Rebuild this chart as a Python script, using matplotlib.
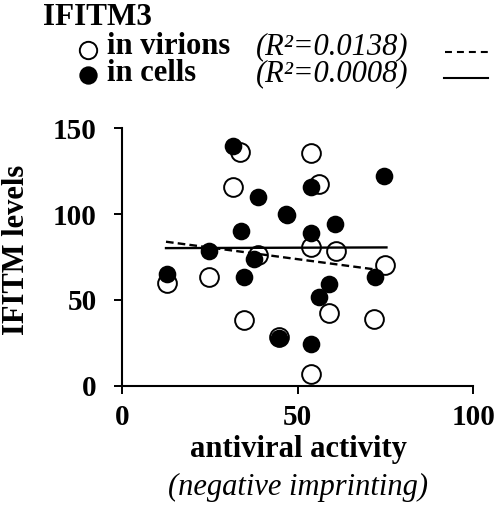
import matplotlib
matplotlib.use("Agg")
import matplotlib.pyplot as plt
from matplotlib.lines import Line2D
import numpy as np

plt.rcParams['font.family'] = ['Liberation Serif', 'DejaVu Serif']
plt.rcParams['lines.scale_dashes'] = False

# ---- data ----
virions_x = [33.7, 53.8, 31.6, 56.0, 53.8, 60.9, 38.7, 75.0, 24.7, 12.8, 34.9, 58.9, 71.7, 44.8, 53.8]
virions_y = [136.4, 135.4, 115.6, 117.5, 81.0, 78.7, 76.1, 70.3, 63.5, 60.0, 38.3, 42.2, 39.0, 28.6, 6.8]

cells_x = [31.6, 74.5, 53.7, 38.7, 46.6, 47.1, 60.8, 53.7, 33.9, 24.7, 37.7, 12.8, 34.7, 71.9, 58.9, 56.0, 44.8, 53.8]
cells_y = [139.9, 122.2, 116.0, 110.1, 100.3, 99.5, 94.2, 89.2, 90.1, 78.5, 73.6, 65.1, 63.1, 63.1, 59.2, 51.9, 27.6, 24.3]

# regression fits: slope, intercept, x-range
virions_fit = (-0.2715, 87.32)
virions_fit_range = (12.6, 71.9)
cells_fit = (0.0064, 80.1)
cells_fit_range = (12.6, 75.3)

virions_r2 = "0.0138"
cells_r2 = "0.0008"

x_ticks = [0, 50, 100]
y_ticks = [0, 50, 100, 150]

W, H = 500, 509
fig = plt.figure(figsize=(W / 100, H / 100), dpi=100)

def fx(px):
    return px / W

def fy(py):
    return 1 - py / H

ax = fig.add_axes([fx(121.7), fy(385.7), 351.6 / W, 257.4 / H])
ax.set_xlim(0, 100)
ax.set_ylim(0, 150)
for s in ['top', 'right']:
    ax.spines[s].set_visible(False)
for s in ['left', 'bottom']:
    ax.spines[s].set_linewidth(1.5)

ax.set_xticks(x_ticks)
ax.set_yticks(y_ticks)
ax.tick_params(direction='out', length=5.5, width=1.4, labelsize=21)
ax.tick_params(axis='y', pad=12.5)
ax.tick_params(axis='x', pad=8)
for lab in ax.get_xticklabels() + ax.get_yticklabels():
    lab.set_fontweight('bold')

ax.plot(virions_x, virions_y, linestyle='none', marker='o', markersize=13.5,
        markerfacecolor='white', markeredgecolor='black', markeredgewidth=1.4,
        clip_on=False, zorder=3)
ax.plot(cells_x, cells_y, linestyle='none', marker='o', markersize=12.7,
        markerfacecolor='black', markeredgecolor='black', markeredgewidth=0,
        clip_on=False, zorder=4)

vx = np.array(virions_fit_range)
ax.plot(vx, virions_fit[0] * vx + virions_fit[1], color='black', lw=1.7,
        dashes=(5.5, 3), zorder=5)
cx = np.array(cells_fit_range)
ax.plot(cx, cells_fit[0] * cx + cells_fit[1], color='black', lw=1.7, zorder=5)

# axis labels
fig.text(fx(16.5), fy(250), 'IFITM levels', rotation=90, ha='center', va='center',
         fontsize=22, fontweight='bold')
fig.text(fx(298), fy(457), 'antiviral activity', ha='center', va='baseline',
         fontsize=22, fontweight='bold')
fig.text(fx(297.5), fy(495), '(negative imprinting)', ha='center', va='baseline',
         fontsize=22, style='italic')

# title
fig.text(fx(43), fy(25), 'IFITM3', ha='left', va='baseline', fontsize=22.5, fontweight='bold')

# legend (manual)
fig.add_artist(Line2D([fx(88)], [fy(50)], marker='o', markersize=12.5,
                      markerfacecolor='white', markeredgecolor='black',
                      markeredgewidth=1.4, linestyle='none', transform=fig.transFigure))
fig.add_artist(Line2D([fx(88)], [fy(75)], marker='o', markersize=13.2,
                      markerfacecolor='black', markeredgecolor='black',
                      markeredgewidth=0, linestyle='none', transform=fig.transFigure))
fig.text(fx(107), fy(54.5), 'in virions', ha='left', va='baseline', fontsize=22, fontweight='bold')
fig.text(fx(107), fy(81), 'in cells', ha='left', va='baseline', fontsize=22, fontweight='bold')
fig.text(fx(256), fy(54.5), '(R\u00b2=' + virions_r2 + ')', ha='left', va='baseline',
         fontsize=22, style='italic')
fig.text(fx(256), fy(81), '(R\u00b2=' + cells_r2 + ')', ha='left', va='baseline',
         fontsize=22, style='italic')
fig.add_artist(Line2D([fx(445), fx(488)], [fy(52), fy(52)], color='black', lw=1.5,
                      dashes=(5, 3.6), transform=fig.transFigure))
fig.add_artist(Line2D([fx(444), fx(488)], [fy(78), fy(78)], color='black', lw=1.5,
                      transform=fig.transFigure))

fig.savefig('out.png', dpi=100)
